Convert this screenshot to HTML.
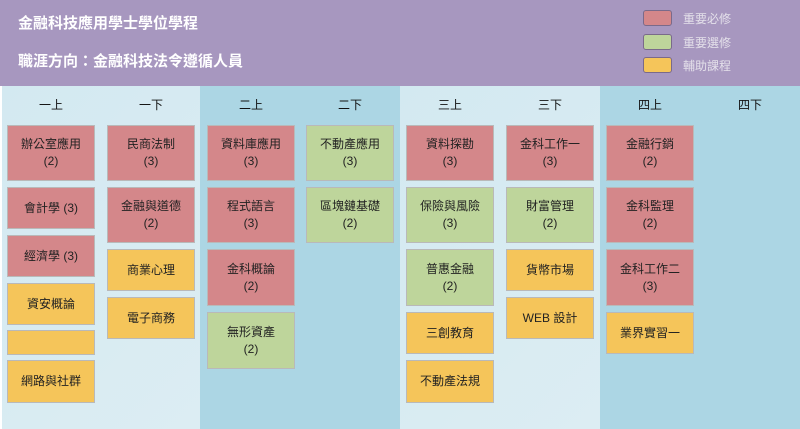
<!DOCTYPE html>
<html><head><meta charset="utf-8"><style>
*{margin:0;padding:0;box-sizing:border-box}
body{width:800px;height:429px;position:relative;overflow:hidden;font-family:"Liberation Sans","Noto Sans CJK TC",sans-serif;background:#fff}
.hd{position:absolute;left:0;top:0;width:800px;height:86px;background:#a797bf}
.t{position:absolute;color:#fff;font-weight:bold;font-size:15px}
.lg{position:absolute;width:29px;height:16px;border:1px solid #7a6a8a;border-radius:3px}
.lt{position:absolute;left:683px;color:#e4e0ea;font-size:12px}
.p{position:absolute;top:86px;height:343px;width:200px}
.h{position:absolute;top:96px;width:88px;text-align:center;font-size:12px;color:#111}
.b{position:absolute;width:88px;border:1.5px solid #b9b9b9;display:flex;align-items:center;justify-content:center;text-align:center;font-size:12px;line-height:17px;color:#222}
.r{background:#d4878a}.g{background:#bed59b}.y{background:#f5c55a}
</style></head><body>
<div class="hd"></div>
<div class="t" style="left:18px;top:12px">金融科技應用學士學位學程</div>
<div class="t" style="left:18px;top:50px">職涯方向：金融科技法令遵循人員</div>
<div class="lg" style="left:643px;top:10px;background:#d4878a"></div><div class="lt" style="top:10px">重要必修</div>
<div class="lg" style="left:643px;top:34px;background:#bed59b"></div><div class="lt" style="top:34px">重要選修</div>
<div class="lg" style="left:643px;top:57px;background:#f5c55a"></div><div class="lt" style="top:57px">輔助課程</div>
<div class="p" style="left:0;background:linear-gradient(135deg,#d3e9f1,#dcedf3);border-left:2px solid #fff"></div>
<div class="p" style="left:200px;background:#acd6e4"></div>
<div class="p" style="left:400px;background:linear-gradient(135deg,#d3e9f1,#dcedf3)"></div>
<div class="p" style="left:600px;background:#acd6e4"></div>
<div class="h" style="left:7px">一上</div><div class="h" style="left:107px">一下</div>
<div class="h" style="left:207px">二上</div><div class="h" style="left:306px">二下</div>
<div class="h" style="left:406px">三上</div><div class="h" style="left:506px">三下</div>
<div class="h" style="left:606px">四上</div><div class="h" style="left:706px">四下</div>

<div class="b r" style="left:7px;top:125px;height:56px">辦公室應用<br>(2)</div>
<div class="b r" style="left:7px;top:187px;height:42px">會計學 (3)</div>
<div class="b r" style="left:7px;top:235px;height:42px">經濟學 (3)</div>
<div class="b y" style="left:7px;top:283px;height:42px">資安概論</div>
<div class="b y" style="left:7px;top:330px;height:25px"></div>
<div class="b y" style="left:7px;top:360px;height:43px">網路與社群</div>

<div class="b r" style="left:107px;top:125px;height:56px">民商法制<br>(3)</div>
<div class="b r" style="left:107px;top:187px;height:56px">金融與道德<br>(2)</div>
<div class="b y" style="left:107px;top:249px;height:42px">商業心理</div>
<div class="b y" style="left:107px;top:297px;height:42px">電子商務</div>

<div class="b r" style="left:207px;top:125px;height:56px">資料庫應用<br>(3)</div>
<div class="b r" style="left:207px;top:187px;height:56px">程式語言<br>(3)</div>
<div class="b r" style="left:207px;top:249px;height:57px">金科概論<br>(2)</div>
<div class="b g" style="left:207px;top:312px;height:57px">無形資產<br>(2)</div>

<div class="b g" style="left:306px;top:125px;height:56px">不動產應用<br>(3)</div>
<div class="b g" style="left:306px;top:187px;height:56px">區塊鏈基礎<br>(2)</div>

<div class="b r" style="left:406px;top:125px;height:56px">資料探勘<br>(3)</div>
<div class="b g" style="left:406px;top:187px;height:56px">保險與風險<br>(3)</div>
<div class="b g" style="left:406px;top:249px;height:57px">普惠金融<br>(2)</div>
<div class="b y" style="left:406px;top:312px;height:42px">三創教育</div>
<div class="b y" style="left:406px;top:360px;height:43px">不動產法規</div>

<div class="b r" style="left:506px;top:125px;height:56px">金科工作一<br>(3)</div>
<div class="b g" style="left:506px;top:187px;height:56px">財富管理<br>(2)</div>
<div class="b y" style="left:506px;top:249px;height:42px">貨幣市場</div>
<div class="b y" style="left:506px;top:297px;height:42px">WEB 設計</div>

<div class="b r" style="left:606px;top:125px;height:56px">金融行銷<br>(2)</div>
<div class="b r" style="left:606px;top:187px;height:56px">金科監理<br>(2)</div>
<div class="b r" style="left:606px;top:249px;height:57px">金科工作二<br>(3)</div>
<div class="b y" style="left:606px;top:312px;height:42px">業界實習一</div>
</body></html>
